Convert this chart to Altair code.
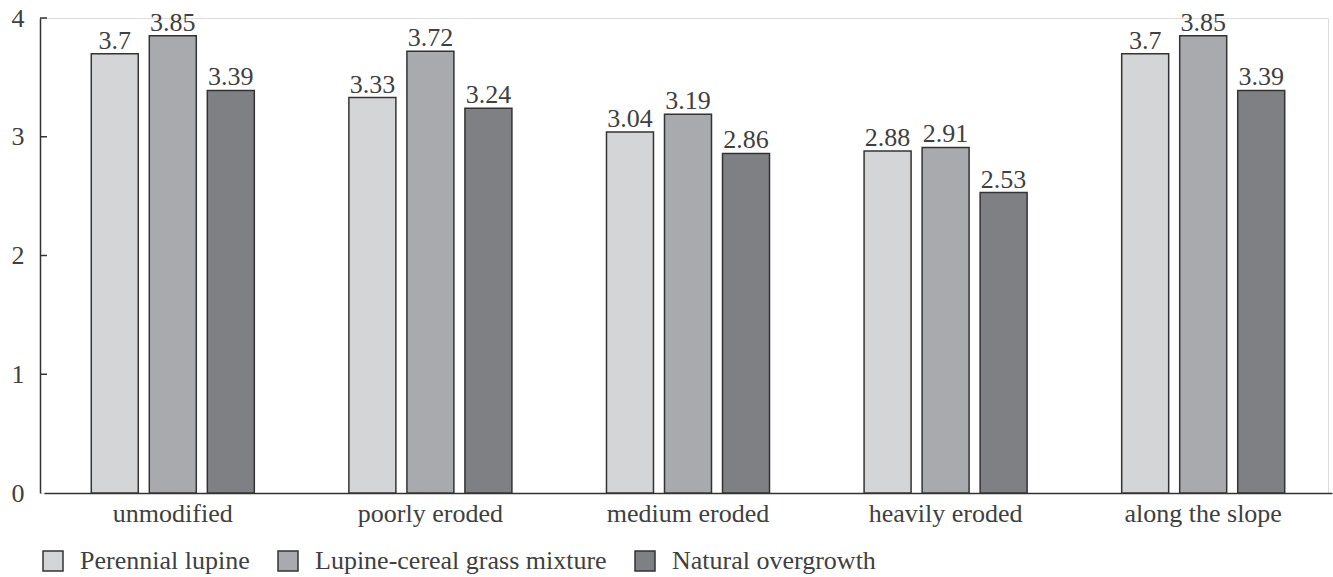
import altair as alt
import pandas as pd

# Soil property by erosion level and vegetation type
categories = ["unmodified", "poorly eroded", "medium eroded", "heavily eroded", "along the slope"]
series = ["Perennial lupine", "Lupine-cereal grass mixture", "Natural overgrowth"]
perennial_lupine = [3.7, 3.33, 3.04, 2.88, 3.7]
lupine_cereal_mix = [3.85, 3.72, 3.19, 2.91, 3.85]
natural_overgrowth = [3.39, 3.24, 2.86, 2.53, 3.39]
colors = ["#d4d5d7", "#a9aaad", "#7f8084"]
y_ticks = [1, 2, 3, 4]

rows = []
for name, vals in zip(series, [perennial_lupine, lupine_cereal_mix, natural_overgrowth]):
    for cat, v in zip(categories, vals):
        rows.append({"category": cat, "series": name, "value": v, "label": str(v)})
df = pd.DataFrame(rows)

FONT = "Liberation Serif"
TEXT = "#404040"
LINE = "#333333"
FS = 26

x_enc = alt.X("category:N", sort=categories,
              scale=alt.Scale(paddingInner=0, paddingOuter=0, range=[4, 1292]),
              axis=alt.Axis(title=None, labelAngle=0, ticks=False, labelFontSize=FS,
                            labelFont=FONT, labelColor=TEXT, labelPadding=7,
                            domainColor=LINE, domainWidth=1.5))
xo_enc = alt.XOffset("series:N", sort=series,
                     scale=alt.Scale(paddingInner=0.19, paddingOuter=0.815))
y_enc = alt.Y("value:Q", scale=alt.Scale(domain=[0, 4], nice=False),
              axis=alt.Axis(title=None, values=[0, 1, 2, 3, 4], format="d", ticks=False,
                            grid=False, labelFontSize=FS, labelFont=FONT, labelColor=TEXT,
                            labelPadding=16, domainColor=LINE, domainWidth=1.5))

bars = alt.Chart(df).mark_bar(stroke=LINE, strokeWidth=1.5).encode(
    x=x_enc,
    xOffset=xo_enc,
    y=y_enc,
    fill=alt.Fill("series:N", sort=series,
                  scale=alt.Scale(domain=series, range=colors),
                  legend=alt.Legend(title=None, orient="none", direction="horizontal",
                                    legendX=0, legendY=530,
                                    symbolType="square", symbolSize=400,
                                    symbolStrokeColor=LINE, symbolStrokeWidth=1.5,
                                    labelFont=FONT, labelFontSize=FS, labelColor=TEXT,
                                    labelLimit=0, labelOffset=14, columnPadding=25)),
)

labels = alt.Chart(df).mark_text(baseline="bottom", dy=0, fontSize=FS, font=FONT,
                                 color=TEXT).encode(
    x=alt.X("category:N", sort=categories),
    xOffset=alt.XOffset("series:N", sort=series),
    y="value:Q",
    text="label:N",
)

ticks = alt.Chart(pd.DataFrame({"t": y_ticks})).mark_rule(color=LINE, strokeWidth=1.5).encode(
    y="t:Q",
    x=alt.value(0),
    x2=alt.value(7),
)

chart = alt.layer(bars, labels, ticks).properties(
    width=1288,
    height=475,
    autosize=alt.AutoSizeParams(type="none"),
    padding={"left": 40, "top": 18, "right": 5, "bottom": 84},
).configure_view(stroke=None).configure(background="white")

chart.save("out.html", embed_options={"renderer": "svg", "actions": False})
